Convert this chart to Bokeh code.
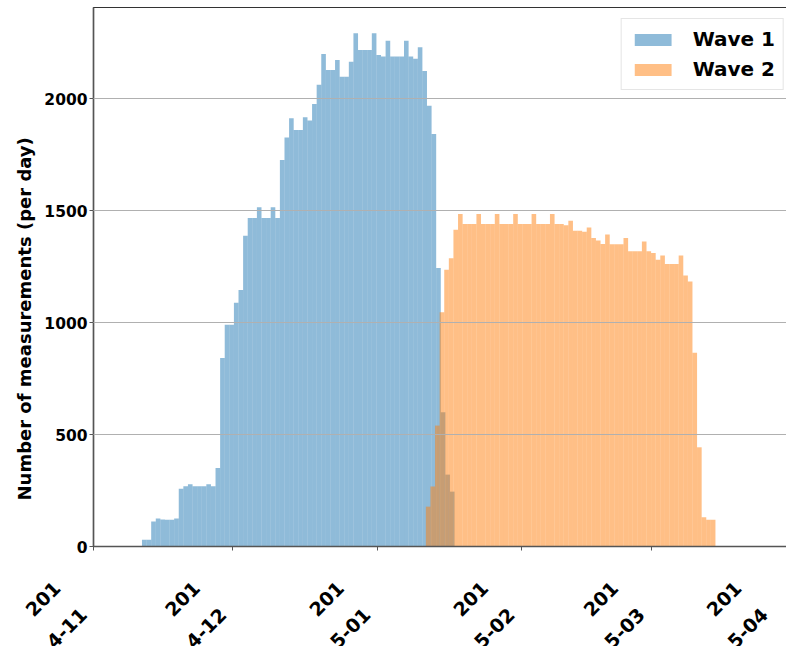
import pandas as pd
from math import pi
from bokeh.plotting import figure
from bokeh.models import (FixedTicker, Range1d, Legend, LegendItem, Title,
                          ColumnDataSource, GlobalInlineStyleSheet)
from bokeh.embed import file_html
from bokeh.resources import INLINE

# ---------------- data ----------------
wave1_counts = [30, 30, 112, 125, 121, 120, 120, 125, 258, 269,
                278, 269, 269, 269, 278, 269, 350, 842, 990, 990,
                1088, 1146, 1388, 1467, 1467, 1515, 1467, 1467, 1515, 1467,
                1726, 1827, 1912, 1860, 1860, 1917, 1902, 1976, 2062, 2199,
                2128, 2128, 2173, 2098, 2098, 2165, 2292, 2217, 2217, 2217,
                2292, 2195, 2188, 2259, 2188, 2188, 2188, 2259, 2188, 2178,
                2229, 2123, 1968, 1842, 1244, 600, 321, 245]
wave2_counts = [178, 268, 540, 1046, 1236, 1287, 1415, 1485,
                1440, 1440, 1440, 1485, 1440, 1440, 1440, 1485, 1440, 1440, 1440, 1485,
                1440, 1440, 1440, 1485, 1440, 1440, 1440, 1485, 1440, 1440,
                1435, 1455, 1410, 1410, 1406, 1424, 1378, 1366, 1351, 1393,
                1350, 1350, 1350, 1378, 1319, 1319, 1319, 1362, 1319, 1311,
                1281, 1300, 1261, 1261, 1261, 1299, 1210, 1183, 865, 443,
                131, 120, 120]
wave1_first_edge = "2014-11-11 10:20"
wave2_first_edge = "2015-01-11 11:45"
bin_width_hours = 23.73
x_start = "2014-11-01"
x_end = "2015-04-01"
tick_dates = ["2014-11-01", "2014-12-01", "2015-01-01",
              "2015-02-01", "2015-03-01", "2015-04-01"]
tick_labels = ["201\n4-11", "201\n4-12", "201\n5-01",
               "201\n5-02", "201\n5-03", "201\n5-04"]
y_ticks = [0, 500, 1000, 1500, 2000]
series_names = ["Wave 1", "Wave 2"]
y_title = "Number of measurements (per day)"


def ms(s):
    return pd.Timestamp(s).value / 1e6


def bins(first, counts):
    w = bin_width_hours * 3600 * 1000.0
    left = [ms(first) + i * w for i in range(len(counts))]
    right = [l + w for l in left]
    return ColumnDataSource(dict(left=left, right=right, top=counts,
                                 bottom=[0] * len(counts)))


def shifted(label):
    # trailing no-break spaces move the right-anchored rotated label
    # down-left along its baseline, as in the reference
    pad = "\u00a0" * 5
    return "\n".join(line + pad for line in label.split("\n"))


FONT = "DejaVu Sans"

p = figure(frame_width=702, frame_height=539,
           x_range=Range1d(ms(x_start), ms(x_end)),
           y_range=Range1d(0, 2407),
           output_backend="svg", toolbar_location=None,
           min_border_left=93, min_border_right=0,
           min_border_top=7, min_border_bottom=60)
p.stylesheets = [GlobalInlineStyleSheet(css="html, body { overflow: hidden; }")]

r1 = p.quad(left="left", right="right", top="top", bottom="bottom",
            source=bins(wave1_first_edge, wave1_counts),
            fill_color="#1f77b4", fill_alpha=0.5, line_color=None)
r2 = p.quad(left="left", right="right", top="top", bottom="bottom",
            source=bins(wave2_first_edge, wave2_counts),
            fill_color="#ff7f0e", fill_alpha=0.5, line_color=None)

# axes
tick_ms = [ms(d) for d in tick_dates]
p.xaxis.ticker = FixedTicker(ticks=tick_ms)
p.xaxis.major_label_overrides = {t: shifted(lab) for t, lab in zip(tick_ms, tick_labels)}
p.xaxis.major_label_orientation = pi / 4
p.xaxis.major_label_text_font = FONT
p.xaxis.major_label_text_font_style = "bold"
p.xaxis.major_label_text_font_size = "19px"
p.xaxis.major_label_text_line_height = 1.7
p.xaxis.major_label_text_color = "black"
p.xaxis.major_label_standoff = 24

p.yaxis.ticker = FixedTicker(ticks=y_ticks)
p.yaxis.major_label_text_font = FONT
p.yaxis.major_label_text_font_style = "bold"
p.yaxis.major_label_text_font_size = "15.5px"
p.yaxis.major_label_text_color = "black"
p.yaxis.major_label_standoff = 2

for ax in (p.xaxis, p.yaxis):
    ax.major_tick_out = 4
    ax.major_tick_in = 0
    ax.minor_tick_line_color = None
    ax.axis_line_color = "#555555"
    ax.axis_line_width = 1.5
    ax.major_tick_line_color = "#555555"

p.outline_line_color = "#333333"
p.outline_line_width = 1.2
p.xgrid.visible = False
p.ygrid.grid_line_color = "#b0b0b0"
p.ygrid.grid_line_width = 1
p.ygrid.level = "overlay"

# y axis title (placed lower than centre, as in the reference)
p.add_layout(Title(text=y_title, align="left", offset=46, standoff=14,
                   text_font=FONT, text_font_style="bold",
                   text_font_size="18px", text_color="black"), "left")

legend = Legend(items=[LegendItem(label=series_names[0], renderers=[r1]),
                       LegendItem(label=series_names[1], renderers=[r2])],
                location="top_right", margin=11, padding=8, spacing=6,
                glyph_width=46, glyph_height=15, label_standoff=17,
                label_text_font=FONT, label_text_font_style="bold",
                label_text_font_size="20px", label_text_color="black",
                border_line_color="#cccccc", border_line_width=1.5,
                background_fill_color="white", background_fill_alpha=0.9)
p.add_layout(legend)

open("out.html", "w").write(file_html(p, INLINE))
